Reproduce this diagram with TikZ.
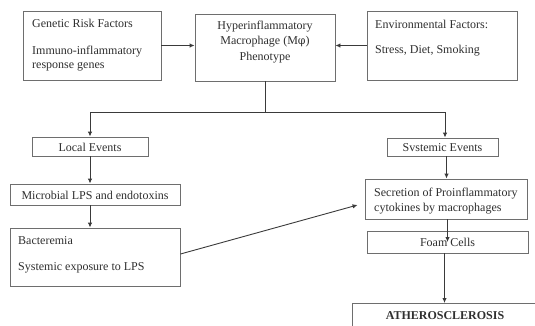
\documentclass[tikz,border=0pt]{standalone}
\usepackage{fontspec}
\setmainfont{Liberation Serif}
\newfontfamily\phifont{DejaVu Serif}
\usetikzlibrary{arrows.meta}
\definecolor{txtc}{HTML}{2F2F2F}
\definecolor{boxc}{HTML}{6E6E6E}
\definecolor{linec}{HTML}{3A3A3A}
\tikzset{
  box/.style={draw=boxc, line width=0.9pt, inner sep=0pt, fill=white},
  txt/.style={text=txtc, inner sep=0pt, font=\fontsize{12}{15}\selectfont},
  conn/.style={draw=linec, line width=0.9pt},
  arr/.style={conn, -{Latex[length=5pt,width=4.5pt]}},
}
\begin{document}
\begin{tikzpicture}[x=1pt,y=-1pt]
\useasboundingbox (0,0) rectangle (535,325);
% top row
\node[box, minimum width=138pt, minimum height=69pt] (gen) at (92,45.5) {};
\node[txt, anchor=base west] (gen1) at (32,27) {Genetic Risk Factors};
\node[txt, anchor=base west] (gen2) at (32,54) {Immuno-inflammatory};
\node[txt, anchor=base west] (gen3) at (32,68) {response genes};
\node[box, minimum width=140pt, minimum height=67pt] (hyp) at (265,47.5) {};
\node[txt, anchor=base] (hyp1) at (265,29) {Hyperinflammatory};
\node[txt, anchor=base] (hyp2) at (265,44) {Macrophage (M{\phifont\fontsize{11}{15}\selectfont φ})};
\node[txt, anchor=base] (hyp3) at (265,60) {Phenotype};
\node[box, minimum width=150pt, minimum height=69pt] (env) at (442,45.5) {};
\node[txt, anchor=base west] (env1) at (375,28) {Environmental Factors:};
\node[txt, anchor=base west] (env2) at (375,53) {Stress, Diet, Smoking};
% left column
\node[box, minimum width=116pt, minimum height=19pt] (local) at (90,146.5) {};
\node[txt] (localt) at (90,147) {Local Events};
\node[box, minimum width=170pt, minimum height=21pt] (micro) at (95,194.5) {};
\node[txt] (microt) at (95,195) {Microbial LPS and endotoxins};
\node[box, minimum width=170pt, minimum height=58pt] (bact) at (95,257) {};
\node[txt, anchor=base west] (bact1) at (18,244) {Bacteremia};
\node[txt, anchor=base west] (bact2) at (18,270) {Systemic exposure to LPS};
% right column
\node[box, minimum width=111pt, minimum height=18pt] (sys) at (442.5,147) {};
\node[txt] (syst) at (442.5,147.5) {Svstemic Events};
\node[box, minimum width=162pt, minimum height=40pt] (secr) at (446,199) {};
\node[txt, anchor=base west] (secr1) at (374,196) {Secretion of Proinflammatory};
\node[txt, anchor=base west] (secr2) at (374,211) {cytokines by macrophages};
\node[box, minimum width=161pt, minimum height=22pt] (foam) at (447.5,242) {};
\node[txt] (foamt) at (447.5,242.5) {Foam Cells};
\coordinate (athtl) at (352,303);
\coordinate (athtr) at (536,303);
\coordinate (athbl) at (352,326);
\draw[draw=boxc, line width=0.9pt] (athtr) -- (athtl) -- (athbl);
\node[txt, font=\fontsize{12}{15}\selectfont\bfseries] (athero) at (445,315.5) {ATHEROSCLEROSIS};
% connectors
\draw[arr] (gen.east) -- (gen.east -| hyp.west);
\draw[arr] (env.west) -- (env.west -| hyp.east);
\coordinate (split) at (265,112);
\coordinate (lbr) at (90,112);
\coordinate (rbr) at (445,112);
\draw[conn] (hyp.south) -- (split);
\draw[arr] (split) -- (lbr) -- (local.north);
\draw[arr] (split) -- (rbr) -- (rbr |- sys.north);
\draw[arr] (local.south) -- (local.south |- micro.north);
\draw[arr] (micro.south -| local.south) -- (local.south |- bact.north);
\draw[arr] ([yshift=3pt]bact.east) -- ([xshift=-7pt,yshift=-6pt]secr.west);
\draw[arr] ([xshift=4pt]sys.south) -- ([xshift=4pt]sys.south |- secr.north);
\draw[arr] (secr.south -| foam.center) -- (foam.center);
\draw[arr] ([xshift=-3pt]foam.south) -- ([xshift=-3pt]foam.south |- athtl);
\end{tikzpicture}
\end{document}
